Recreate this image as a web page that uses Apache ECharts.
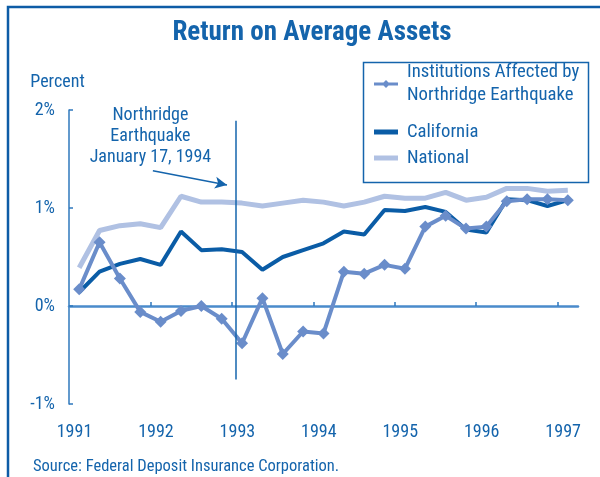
<!DOCTYPE html>
<html>
<head>
<meta charset="utf-8">
<script src="https://cdn.jsdelivr.net/npm/echarts@6/dist/echarts.min.js"></script>
<style>
    html, body { margin: 0; padding: 0; background: #fff; }
    #chart { width: 600px; height: 477px; }
</style>
</head>
<body>
<div id="chart"></div>
<script>
// quarterly data, 1991 Q1 - 1997 Q1
let quarters = [
    '1991Q1', '1991Q2', '1991Q3', '1991Q4',
    '1992Q1', '1992Q2', '1992Q3', '1992Q4',
    '1993Q1', '1993Q2', '1993Q3', '1993Q4',
    '1994Q1', '1994Q2', '1994Q3', '1994Q4',
    '1995Q1', '1995Q2', '1995Q3', '1995Q4',
    '1996Q1', '1996Q2', '1996Q3', '1996Q4',
    '1997Q1'
];
let yearTicks = [1991, 1992, 1993, 1994, 1995, 1996, 1997];

let affected = [0.17, 0.65, 0.28, -0.06, -0.16, -0.05, 0.00, -0.13,
    -0.38, 0.08, -0.49, -0.26, -0.28, 0.35, 0.33, 0.42,
    0.38, 0.81, 0.92, 0.79, 0.81, 1.07, 1.09, 1.09, 1.08];
let california = [0.14, 0.35, 0.43, 0.48, 0.42, 0.76, 0.57, 0.58,
    0.55, 0.37, 0.50, 0.57, 0.64, 0.76, 0.73, 0.98,
    0.97, 1.01, 0.96, 0.78, 0.75, 1.09, 1.08, 1.02, 1.08];
let national = [0.39, 0.77, 0.82, 0.84, 0.80, 1.12, 1.06, 1.06,
    1.05, 1.02, 1.05, 1.08, 1.06, 1.02, 1.06, 1.12,
    1.10, 1.10, 1.16, 1.08, 1.11, 1.20, 1.20, 1.17, 1.18];

let affectedName = 'Institutions Affected by\nNorthridge Earthquake';

let textColor = '#1464ac';
let axisColor = '#2f78bd';
let fontFamily = "'Roboto Condensed', 'Open Sans', sans-serif";

// legend icons: short thick line, with a diamond for the affected institutions
let lineIcon = 'path://M0,0 H24 V5 H0 Z';
let diamondIcon = 'path://M0,5.5 H24 V8.5 H0 Z M12,3 L16,7 L12,11 L8,7 Z';

let chart = echarts.init(document.getElementById('chart'));

let option = {
    animation: false,
    textStyle: {fontFamily: fontFamily},
    title: [{
        text: 'Return on Average Assets',
        left: 307,
        top: 15,
        textAlign: 'center',
        textStyle: {color: textColor, fontSize: 27, fontWeight: 'bold', fontFamily: fontFamily}
    }, {
        text: 'Source: Federal Deposit Insurance Corporation.',
        left: 28,
        top: 453,
        textStyle: {color: textColor, fontSize: 16.5, fontWeight: 'normal', fontFamily: fontFamily}
    }],
    legend: [{
        orient: 'vertical',
        left: 374,
        top: 49.5,
        padding: 0,
        itemWidth: 24,
        itemHeight: 14,
        data: [{
            name: affectedName,
            icon: diamondIcon,
            textStyle: {padding: [23, 0, 0, 4]}
        }],
        textStyle: {color: textColor, fontSize: 18.7, lineHeight: 23, fontFamily: fontFamily}
    }, {
        orient: 'vertical',
        left: 374,
        top: 120.5,
        padding: 0,
        itemGap: 3,
        itemWidth: 24,
        itemHeight: 14,
        data: [
            {name: 'California', icon: lineIcon},
            {name: 'National', icon: lineIcon}
        ],
        textStyle: {color: textColor, fontSize: 18.7, lineHeight: 23, padding: [0, 0, 0, 4], fontFamily: fontFamily}
    }],
    graphic: [{
        // outer frame (top and left)
        type: 'polyline',
        shape: {points: [[8, 477], [8, 7], [600, 7]]},
        style: {stroke: '#0d5ca6', lineWidth: 2.5, fill: null}
    }, {
        // legend box
        type: 'rect',
        shape: {x: 363.5, y: 62.5, width: 225, height: 120},
        style: {stroke: '#1464ac', lineWidth: 1.5, fill: null},
        z: 10
    }],
    grid: {left: 69, right: 22, top: 110, bottom: 73},
    xAxis: [{
        // series axis (quarters)
        type: 'category',
        data: quarters,
        boundaryGap: true,
        position: 'bottom',
        axisLine: {show: false, onZero: false},
        axisTick: {show: false},
        axisLabel: {show: false},
        splitLine: {show: false}
    }, {
        // zero line with year ticks
        type: 'value',
        min: 1991,
        max: 1997.25,
        interval: 1,
        position: 'bottom',
        axisLine: {show: true, onZero: true, onZeroAxisIndex: 0, lineStyle: {color: '#4a8bcb', width: 2.5}},
        axisTick: {show: true, inside: true, length: 4, customValues: yearTicks.slice(1), lineStyle: {color: axisColor, width: 1.5}},
        axisLabel: {show: false},
        splitLine: {show: false}
    }, {
        // year labels at bottom
        type: 'value',
        min: 1991,
        max: 1997.25,
        interval: 1,
        position: 'bottom',
        axisLine: {show: false, onZero: false},
        axisTick: {show: false},
        axisLabel: {
            show: true,
            customValues: yearTicks,
            margin: 19,
            padding: [0, 0, 0, 11],
            color: textColor,
            fontSize: 18,
            fontFamily: fontFamily,
            formatter: function (v) {
                return String(v);
            }
        },
        splitLine: {show: false}
    }],
    yAxis: {
        type: 'value',
        min: -1,
        max: 2,
        interval: 1,
        name: 'Percent',
        nameLocation: 'end',
        nameGap: 19,
        nameTextStyle: {color: textColor, fontSize: 18, fontFamily: fontFamily, padding: [0, 23, 0, 0]},
        axisLine: {show: true, onZero: false, lineStyle: {color: axisColor, width: 1.5}},
        axisTick: {show: true, inside: true, length: 4, lineStyle: {color: axisColor, width: 1.5}},
        axisLabel: {color: textColor, fontSize: 18, margin: 14, fontFamily: fontFamily, formatter: '{value}%'},
        splitLine: {show: false}
    },
    series: [{
        name: 'National',
        type: 'line',
        xAxisIndex: 0,
        data: national,
        symbol: 'none',
        lineStyle: {color: '#b0c1e3', width: 5},
        itemStyle: {color: '#b0c1e3'},
        z: 2
    }, {
        name: 'California',
        type: 'line',
        xAxisIndex: 0,
        data: california,
        symbol: 'none',
        lineStyle: {color: '#0a5ca6', width: 4},
        itemStyle: {color: '#0a5ca6'},
        z: 3
    }, {
        name: affectedName,
        type: 'line',
        xAxisIndex: 0,
        data: affected,
        symbol: 'diamond',
        symbolSize: 12,
        showAllSymbol: true,
        lineStyle: {color: '#6a8dca', width: 4},
        itemStyle: {color: '#6a8dca'},
        z: 4
    }, {
        // annotation: earthquake marker, arrow and text
        name: 'annotation',
        type: 'line',
        xAxisIndex: 1,
        data: [],
        silent: true,
        markLine: {
            silent: true,
            animation: false,
            label: {show: false},
            lineStyle: {color: '#1464ac', width: 1.5, type: 'solid'},
            data: [
                [{coord: [1993.05, 1.89], symbol: 'none'}, {coord: [1993.05, -0.75], symbol: 'none'}],
                [{coord: [1992.03, 1.38], symbol: 'none'}, {coord: [1992.94, 1.235], symbol: 'arrow', symbolSize: [9, 12]}]
            ]
        },
        markPoint: {
            silent: true,
            symbol: 'rect',
            symbolSize: 0,
            label: {
                show: true,
                position: 'inside',
                color: textColor,
                fontSize: 18,
                lineHeight: 21,
                align: 'center',
                verticalAlign: 'middle',
                fontFamily: fontFamily,
                formatter: 'Northridge\nEarthquake\nJanuary 17, 1994'
            },
            data: [{coord: [1992.0, 1.73]}]
        }
    }]
};

chart.setOption(option);
</script>
</body>
</html>
